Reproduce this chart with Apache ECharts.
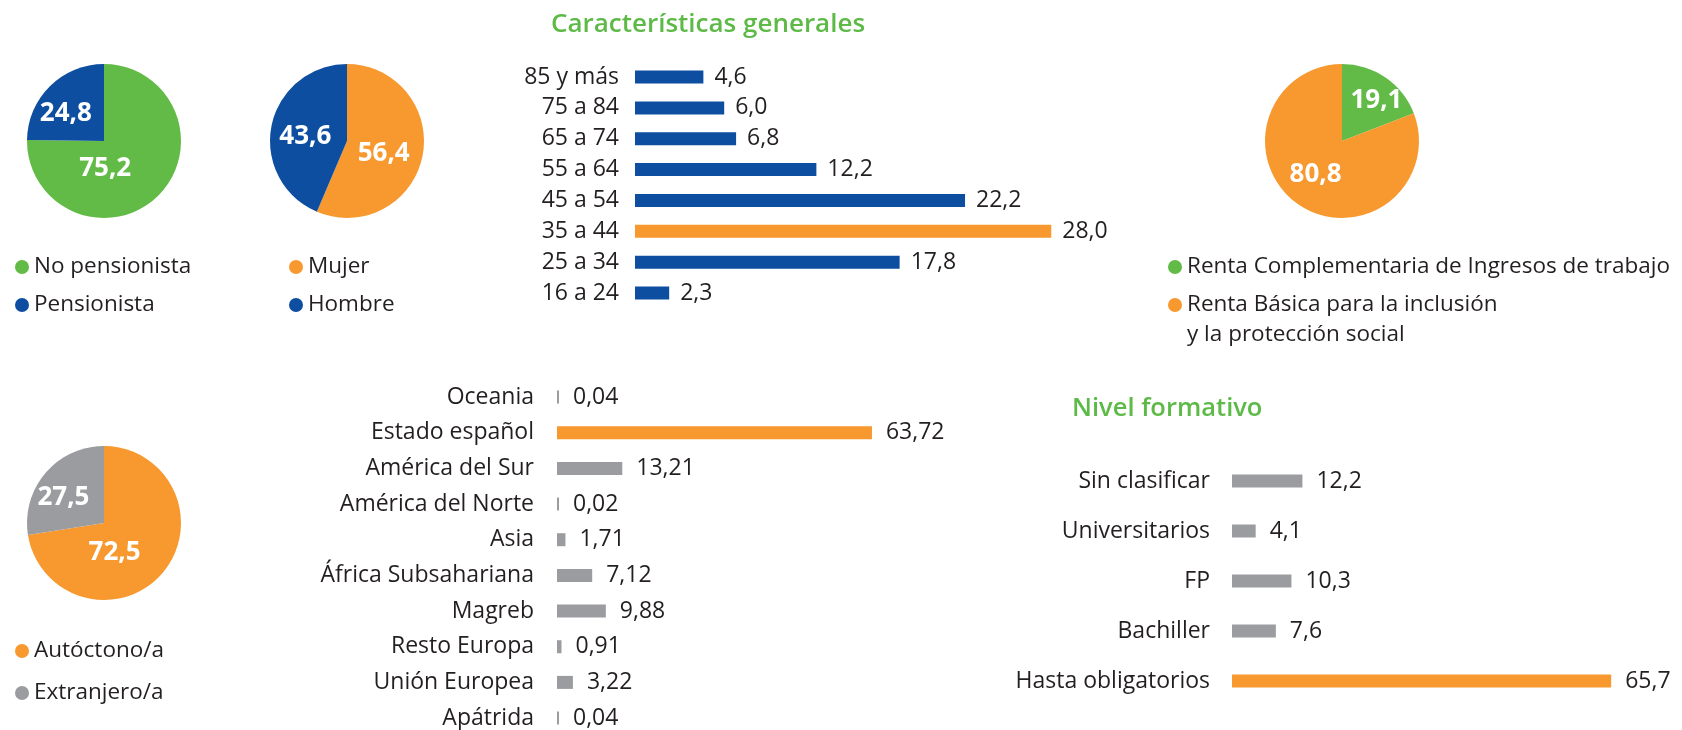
<!DOCTYPE html>
<html>
<head>
<meta charset="utf-8">
<title>Características generales</title>
<script src="https://cdn.jsdelivr.net/npm/echarts@6/dist/echarts.min.js"></script>
<style>
  html, body { margin: 0; padding: 0; background: #fff; }
  #main { width: 1682px; height: 730px; }
</style>
</head>
<body>
<div id="main"></div>
<script>
// ---------- datos ----------
const pensionNombres = ['No pensionista', 'Pensionista'];
const pensionValores = [75.2, 24.8];

const sexoNombres = ['Mujer', 'Hombre'];
const sexoValores = [56.4, 43.6];

const rentaNombres = ['Renta Complementaria de Ingresos de trabajo', 'Renta Básica para la inclusión\ny la protección social'];
const rentaValores = [19.1, 80.8];

const origenNombres = ['Autóctono/a', 'Extranjero/a'];
const origenValores = [72.5, 27.5];

const edadCategorias = ['85 y más', '75 a 84', '65 a 74', '55 a 64', '45 a 54', '35 a 44', '25 a 34', '16 a 24'];
const edadValores = [4.6, 6.0, 6.8, 12.2, 22.2, 28.0, 17.8, 2.3];
const edadDestacada = '35 a 44';

const procedenciaCategorias = ['Oceania', 'Estado español', 'América del Sur', 'América del Norte', 'Asia',
  'África Subsahariana', 'Magreb', 'Resto Europa', 'Unión Europea', 'Apátrida'];
const procedenciaValores = [0.04, 63.72, 13.21, 0.02, 1.71, 7.12, 9.88, 0.91, 3.22, 0.04];
const procedenciaDestacada = 'Estado español';

const nivelCategorias = ['Sin clasificar', 'Universitarios', 'FP', 'Bachiller', 'Hasta obligatorios'];
const nivelValores = [12.2, 4.1, 10.3, 7.6, 65.7];
const nivelDestacada = 'Hasta obligatorios';

// ---------- estilos ----------
const VERDE = '#62bb46';
const AZUL = '#0d4ea1';
const NARANJA = '#f7992f';
const GRIS = '#9b9ca0';
const TEXTO = '#231f20';
const TITULO = '#5dba47';
const FUENTE = '"Open Sans", sans-serif';

function coma(v, d) {
  return v.toFixed(d).replace('.', ',');
}

// pie con etiquetas blancas dentro
function crearPie(nombres, valores, colores, centro, ajustes) {
  return {
    type: 'pie',
    center: centro,
    radius: 77,
    startAngle: 90,
    clockwise: true,
    silent: true,
    label: {
      show: true,
      position: 'inside',
      color: '#fff',
      fontSize: 26,
      fontWeight: 'bold',
      fontFamily: FUENTE,
      formatter: p => coma(p.value, 1)
    },
    labelLayout: p => ({ dx: ajustes[p.dataIndex][0], dy: ajustes[p.dataIndex][1] }),
    labelLine: { show: false },
    itemStyle: { borderWidth: 0 },
    data: nombres.map((n, i) => ({ name: n, value: valores[i], itemStyle: { color: colores[i] } }))
  };
}

function crearLeyenda(datos, left, top, extra) {
  return Object.assign({
    data: datos,
    orient: 'vertical',
    left: left,
    top: top,
    padding: 0,
    itemGap: 12,
    itemWidth: 14,
    itemHeight: 14,
    icon: 'circle',
    selectedMode: false,
    textStyle: { fontSize: 22.5, color: TEXTO, fontFamily: FUENTE, lineHeight: 26 }
  }, extra || {});
}

function crearBarras(idx, categorias, valores, destacada, colorBase, max, decimales, margen, distancia) {
  return {
    yAxis: {
      type: 'category',
      gridIndex: idx,
      inverse: true,
      data: categorias,
      axisLine: { show: false },
      axisTick: { show: false },
      axisLabel: { fontSize: 23, color: TEXTO, fontFamily: FUENTE, margin: margen }
    },
    xAxis: { type: 'value', gridIndex: idx, min: 0, max: max, show: false },
    series: {
      type: 'bar',
      xAxisIndex: idx,
      yAxisIndex: idx,
      barWidth: 13,
      barMinHeight: 2,
      silent: true,
      data: valores.map((v, i) => ({
        value: v,
        itemStyle: { color: categorias[i] === destacada ? NARANJA : colorBase }
      })),
      label: {
        show: true,
        position: 'right',
        distance: distancia,
        fontSize: 23,
        color: TEXTO,
        fontFamily: FUENTE,
        formatter: p => coma(p.value, decimales)
      }
    }
  };
}

const barEdad = crearBarras(0, edadCategorias, edadValores, edadDestacada, AZUL, 30, 1, 16, 11);
const barProc = crearBarras(1, procedenciaCategorias, procedenciaValores, procedenciaDestacada, GRIS, 70, 2, 23, 14);
const barNivel = crearBarras(2, nivelCategorias, nivelValores, nivelDestacada, GRIS, 70, 1, 22, 14);

// punto arriba de una caja alta: alinea el punto con la primera línea
const puntoArriba = 'path://M0 7a7 7 0 1 0 14 0a7 7 0 1 0 -14 0zM7 44h0';

const myChart = echarts.init(document.getElementById('main'));

let option = {
  backgroundColor: '#fff',
  animation: false,
  textStyle: { fontFamily: FUENTE },
  title: [
    {
      text: 'Características generales',
      left: 708, top: 12, textAlign: 'center', padding: 0,
      textStyle: { color: TITULO, fontSize: 26, fontWeight: 600, fontFamily: FUENTE }
    },
    {
      text: 'Nivel formativo',
      left: 1072, top: 396, padding: 0,
      textStyle: { color: TITULO, fontSize: 25.5, fontWeight: 600, fontFamily: FUENTE }
    }
  ],
  legend: [
    crearLeyenda(pensionNombres, 15, 254),
    crearLeyenda(sexoNombres, 289, 254),
    crearLeyenda([rentaNombres[0]], 1168, 254),
    crearLeyenda([rentaNombres[1]], 1168, 290, {
      icon: puntoArriba,
      itemHeight: 44,
      textStyle: { fontSize: 22.5, color: TEXTO, fontFamily: FUENTE, lineHeight: 30 }
    }),
    crearLeyenda(origenNombres, 15, 638, { itemGap: 16 })
  ],
  grid: [
    { left: 635, top: 61.6, width: 446, height: 246.9, outerBoundsMode: 'none' },
    { left: 557, top: 379.2, width: 346, height: 356.7, outerBoundsMode: 'none' },
    { left: 1232, top: 456, width: 404, height: 250, outerBoundsMode: 'none' }
  ],
  xAxis: [barEdad.xAxis, barProc.xAxis, barNivel.xAxis],
  yAxis: [barEdad.yAxis, barProc.yAxis, barNivel.yAxis],
  series: [
    crearPie(pensionNombres, pensionValores, [VERDE, AZUL], [104, 141], [[-28, -2], [-9, 2]]),
    crearPie(sexoNombres, sexoValores, [NARANJA, AZUL], [347, 141], [[-4, 4], [-1, 4]]),
    crearPie(rentaNombres, rentaValores, [VERDE, NARANJA], [1342, 141], [[11, -6], [-3, -1]]),
    crearPie(origenNombres, origenValores, [NARANJA, GRIS], [104, 523], [[-21, 3], [-9, 2]]),
    barEdad.series,
    barProc.series,
    barNivel.series
  ]
};

myChart.setOption(option);
window.addEventListener('resize', function () {
  myChart.resize();
});
</script>
</body>
</html>
